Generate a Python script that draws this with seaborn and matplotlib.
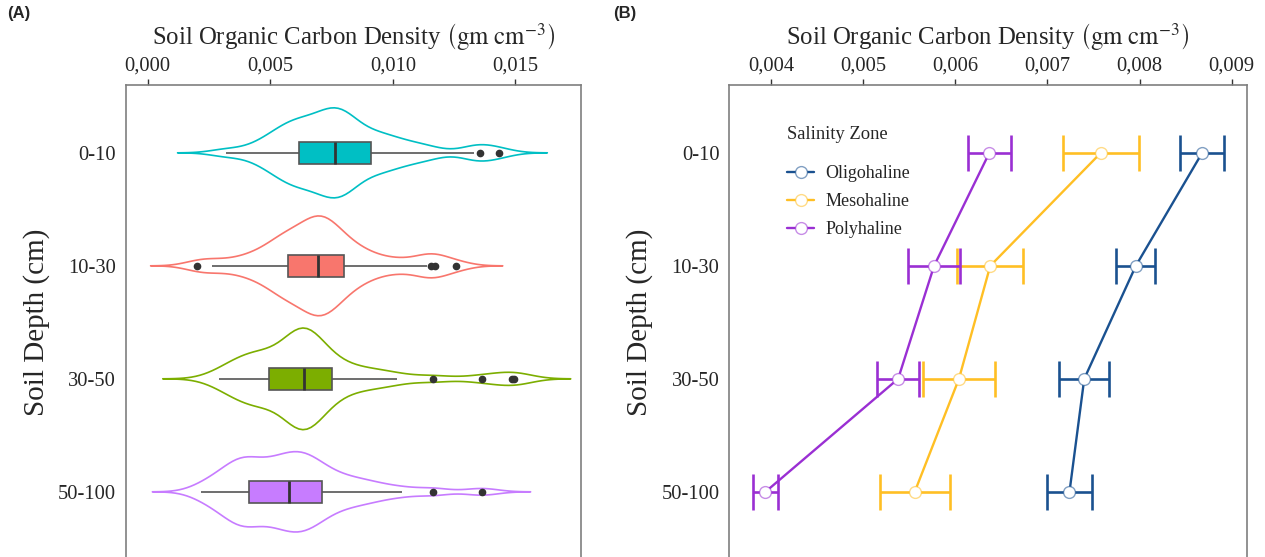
import numpy as np
import pandas as pd
import matplotlib
matplotlib.use("Agg")
import matplotlib.pyplot as plt
import seaborn as sns
from matplotlib.ticker import FuncFormatter
from matplotlib.colors import to_rgba

# ---------------- DATA ---------------- #
depths = ["0-10", "10-30", "30-50", "50-100"]

# soil organic carbon density samples (g cm-3) per depth
soc_0_10 = [0.0032, 0.0043, 0.0048, 0.0051, 0.0053, 0.0055, 0.0057, 0.0059, 0.0060, 0.0061,
            0.00619, 0.0064, 0.0066, 0.0068, 0.0069, 0.0070, 0.0072, 0.0073, 0.0074, 0.0076,
            0.00766, 0.0077, 0.0078, 0.0079, 0.0080, 0.0081, 0.0082, 0.0083, 0.0085, 0.0088,
            0.00911, 0.0093, 0.0095, 0.0098, 0.0101, 0.0105, 0.0110, 0.0116, 0.0133, 0.01355, 0.01432]
soc_10_30 = [0.00202, 0.00264, 0.0035, 0.0041, 0.0045, 0.0048, 0.0051, 0.0053, 0.0055, 0.0056,
             0.00571, 0.0058, 0.0060, 0.0062, 0.0063, 0.0065, 0.0066, 0.0067, 0.0068, 0.0069,
             0.00696, 0.0070, 0.0071, 0.0072, 0.0073, 0.0074, 0.0075, 0.0076, 0.0078, 0.0079,
             0.00802, 0.0083, 0.0086, 0.0088, 0.0092, 0.0098, 0.0105, 0.0114, 0.01157, 0.01173, 0.01258]
soc_30_50 = [0.00291, 0.0033, 0.0036, 0.0038, 0.0040, 0.0042, 0.0044, 0.0046, 0.0047, 0.0049,
             0.00496, 0.0053, 0.0057, 0.0059, 0.0060, 0.0061, 0.0062, 0.0062, 0.0063, 0.0063,
             0.00638, 0.0064, 0.0064, 0.0065, 0.0065, 0.0066, 0.0067, 0.0068, 0.0070, 0.0073,
             0.00751, 0.0077, 0.0081, 0.0085, 0.0090, 0.0095, 0.01016, 0.01166, 0.01363, 0.01488, 0.01496]
soc_50_100 = [0.00218, 0.0026, 0.0029, 0.0032, 0.0034, 0.0036, 0.0037, 0.0038, 0.0039, 0.0040,
              0.00413, 0.0043, 0.0045, 0.0047, 0.0049, 0.0051, 0.0052, 0.0054, 0.0055, 0.0057,
              0.00578, 0.0059, 0.0060, 0.0062, 0.0063, 0.0064, 0.0065, 0.0066, 0.0068, 0.0069,
              0.0071, 0.0073, 0.0076, 0.0079, 0.0082, 0.0086, 0.0090, 0.0095, 0.01037, 0.01166, 0.01363]

# panel B: mean +/- error per salinity zone
zones = ["Oligohaline", "Mesohaline", "Polyhaline"]
oligo_mean = [0.00868, 0.00796, 0.00740, 0.00724]
oligo_err = [0.00024, 0.00021, 0.00027, 0.00024]
meso_mean = [0.00758, 0.00638, 0.00604, 0.00556]
meso_err = [0.00041, 0.00036, 0.00039, 0.00038]
poly_mean = [0.00637, 0.00577, 0.00538, 0.00394]
poly_err = [0.00023, 0.00028, 0.00023, 0.00014]

depth_colors = ["#00BFC4", "#F8766D", "#7CAE00", "#C77CFF"]
zone_colors = ["#1A5190", "#FFBF24", "#9A2FD3"]

# long tables
soc = pd.DataFrame({
    "depth": np.repeat(depths, [len(soc_0_10), len(soc_10_30), len(soc_30_50), len(soc_50_100)]),
    "soc": np.concatenate([soc_0_10, soc_10_30, soc_30_50, soc_50_100]),
})
zone_df = pd.DataFrame({
    "zone": np.repeat(zones, len(depths)),
    "depth": depths * len(zones),
    "mean": oligo_mean + meso_mean + poly_mean,
    "err": oligo_err + meso_err + poly_err,
})
zone_df["ypos"] = zone_df["depth"].map({d: i for i, d in enumerate(depths)})

# ---------------- STYLE ---------------- #
sns.set_style("white")
plt.rcParams["font.family"] = ["Liberation Serif", "DejaVu Serif"]
plt.rcParams["mathtext.fontset"] = "stix"
xlab = r"Soil Organic Carbon Density $\left(\mathrm{gm\ cm^{-3}}\right)$"
comma = FuncFormatter(lambda v, p: f"{v:.3f}".replace(".", ","))

fig = plt.figure(figsize=(12.65, 5.57), dpi=100)
ax1 = fig.add_axes([0.0994, -0.0047, 0.3597, 0.852])
ax2 = fig.add_axes([0.5765, -0.0047, 0.409, 0.852])

# ---------------- PANEL A ---------------- #
sns.violinplot(data=soc, x="soc", y="depth", hue="depth", palette=depth_colors,
               fill=False, inner=None, cut=3, density_norm="area", common_norm=True,
               width=0.9, bw_method=0.27, linewidth=1.2, legend=False, ax=ax1)
sns.boxplot(data=soc, x="soc", y="depth", hue="depth", palette=depth_colors,
            saturation=1, width=0.2, linecolor="#555555", linewidth=1.2, showcaps=False,
            flierprops=dict(marker="o", markersize=4.5, markerfacecolor="#333333",
                            markeredgecolor="#333333"),
            medianprops=dict(color="#333333", linewidth=2),
            legend=False, ax=ax1)
ax1.set_xlim(-0.0009, 0.01767)
ax1.set_xticks([0.0, 0.005, 0.010, 0.015])

# ---------------- PANEL B ---------------- #
for zone, color in zip(zones, zone_colors):
    sub = zone_df[zone_df["zone"] == zone]
    ax2.errorbar(sub["mean"], sub["ypos"], xerr=sub["err"], fmt="none", ecolor=color,
                 elinewidth=1.9, capsize=13, capthick=1.9)
sns.lineplot(data=zone_df, x="mean", y="ypos", hue="zone", palette=zone_colors,
             orient="y", sort=False, errorbar=None, marker="o", markersize=8.5,
             markerfacecolor="white", markeredgewidth=1.0, linewidth=1.7, ax=ax2)
for ln in ax2.lines:
    if ln.get_marker() == "o":
        ln.set_markeredgecolor(to_rgba(ln.get_color(), 0.55))
ax2.set_xlim(0.003547, 0.009163)
ax2.set_xticks([0.004, 0.005, 0.006, 0.007, 0.008, 0.009])
ax2.set_yticks(range(len(depths)))
ax2.set_yticklabels(depths)
handles, labels = ax2.get_legend_handles_labels()
for h in handles:
    h.set_markeredgecolor(to_rgba(h.get_color(), 0.55))
leg = ax2.legend(handles, labels, title="Salinity Zone", loc="upper left",
                 bbox_to_anchor=(0.112, 0.914), frameon=False, fontsize=13,
                 title_fontsize=13.3, borderpad=0, borderaxespad=0, handlelength=1.5,
                 handletextpad=0.6, labelspacing=0.62, alignment="left")
leg._legend_box.sep = 16

for ax in (ax1, ax2):
    ax.set_ylim(3.6, -0.6)
    ax.xaxis.tick_top()
    ax.xaxis.set_label_position("top")
    ax.xaxis.set_major_formatter(comma)
    ax.set_xlabel(xlab, fontsize=17.8, labelpad=8)
    ax.set_ylabel("Soil Depth (cm)", fontsize=21, labelpad=6)
    ax.tick_params(axis="both", labelsize=14.8, length=4, width=1, color="#333333", pad=3)
    for s in ax.spines.values():
        s.set_color("#7f7f7f")
        s.set_linewidth(1.2)

fig.text(0.006, 0.975, "(A)", fontsize=12, fontweight="bold", family="Liberation Sans", va="center")
fig.text(0.485, 0.975, "(B)", fontsize=12, fontweight="bold", family="Liberation Sans", va="center")

plt.savefig("out.png", dpi=100)
